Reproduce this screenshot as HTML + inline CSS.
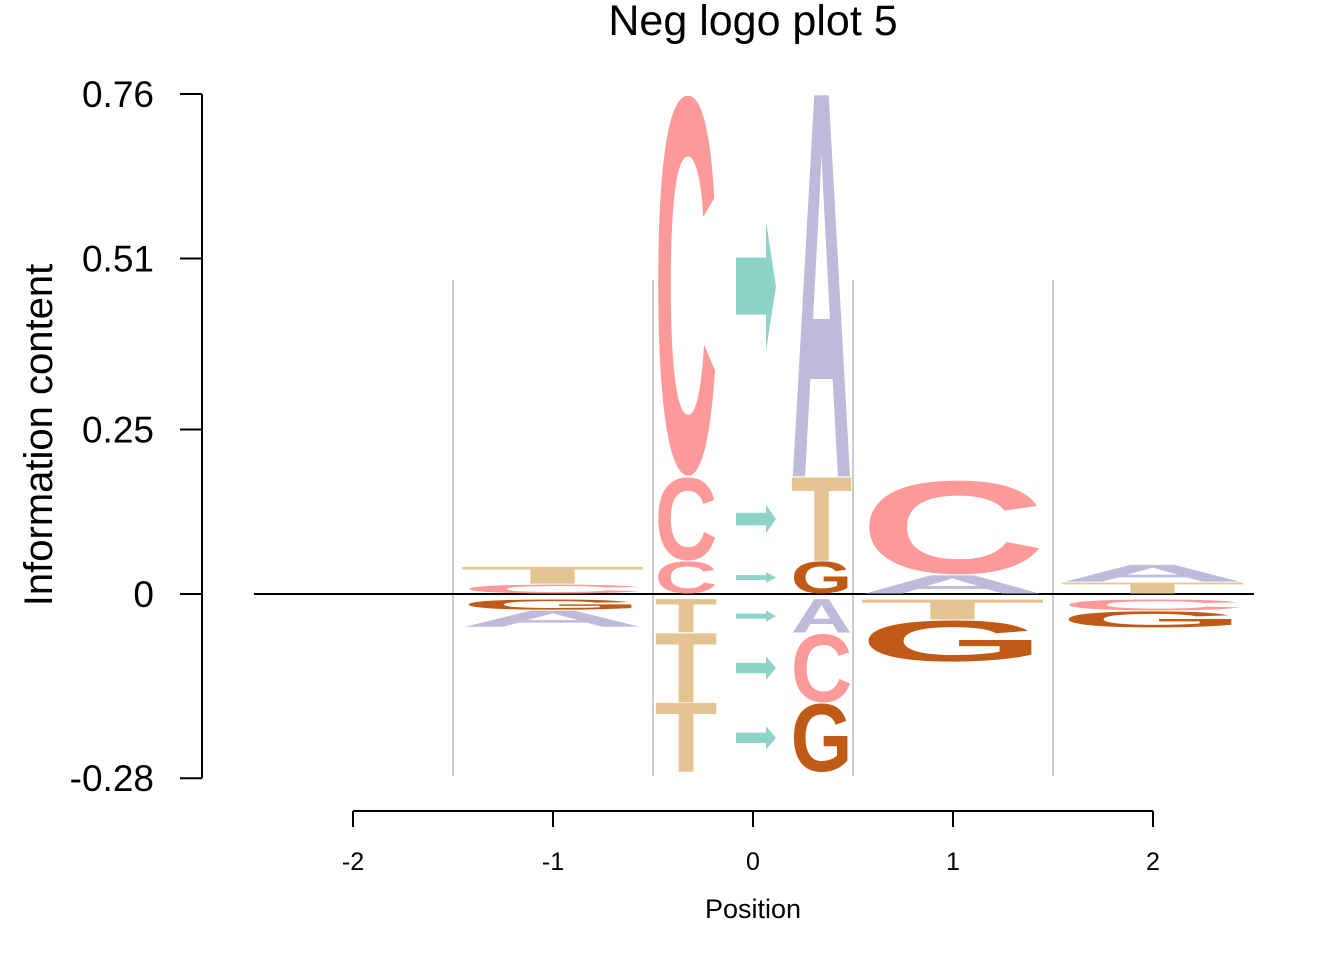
<!DOCTYPE html>
<html><head><meta charset="utf-8"><style>
body{margin:0;background:#fff}
svg{display:block;font-family:"Liberation Sans",sans-serif}
</style></head><body>
<svg id="chart" width="1344" height="960" viewBox="0 0 1344 960">
<text x="753" y="35" font-size="43" text-anchor="middle">Neg logo plot 5</text>
<text transform="translate(52,435) rotate(-90)" font-size="40" text-anchor="middle">Information content</text>
<text x="753" y="918" font-size="27" text-anchor="middle">Position</text>
<g id="grid"></g><g id="axes"></g><g id="marks"></g>
</svg>
<script>
const positions = [-1, 0, 1, 2];
// stacks: letter pairs "X" or "X>Y" for dinucleotide position; values in bits
const posLetters = [["C","T"], ["C>G","C>T","C>A"], ["A","C"], ["T","A"]];
const posValues  = [[0.015,0.027], [0.050,0.128,0.580], [0.029,0.144], [0.018,0.027]];
const negLetters = [["G","A"], ["T>A","T>C","T>G"], ["T","G"], ["C","G"]];
const negValues  = [[0.017,0.026], [0.052,0.106,0.106], [0.032,0.064], [0.018,0.026]];
const yTicks = [0.76, 0.51, 0.25, 0, -0.28];
const yTickLabels = ["0.76","0.51","0.25","0","-0.28"];
const xTicks = [-2,-1,0,1,2];
const xTickLabels = ["-2","-1","0","1","2"];

const NS="http://www.w3.org/2000/svg";
const y = v => 594 - v*657.9;
const x = p => 753 + p*200;
const colors = {A:"#BEBADA",C:"#FB9A99",G:"#C05A16",T:"#E5C494"};
const glyphTop = {A:-68.7,T:-68.7,C:-69.8,G:-69.8};
const glyphBot = {A:0,T:0,C:1.1,G:1.1};
function mk(tag, attrs, parent){const e=document.createElementNS(NS,tag);for(const k in attrs)e.setAttribute(k,attrs[k]);parent.appendChild(e);return e;}
const grid=document.getElementById('grid'), axes=document.getElementById('axes'), marks=document.getElementById('marks');

[-1.5,-0.5,0.5,1.5].forEach(p=>{
  const l=mk('line',{x1:x(p),x2:x(p),y1:280,y2:776,stroke:"#cccccc","stroke-width":2},grid);
  
  
});
let a=mk('line',{x1:202,x2:202,y1:y(yTicks[0]),y2:y(yTicks[yTicks.length-1]),stroke:"#000","stroke-width":2},axes);


yTicks.forEach((v,i)=>{
  const t=mk('line',{x1:180,x2:202,y1:y(v),y2:y(v),stroke:"#000","stroke-width":2},axes);
  
  
  const tx=mk('text',{x:154,y:y(v)+13,"font-size":37,"text-anchor":"end"},axes);
  tx.textContent=yTickLabels[i];
  
  
});
a=mk('line',{x1:x(xTicks[0]),x2:x(xTicks[xTicks.length-1]),y1:811,y2:811,stroke:"#000","stroke-width":2},axes);


xTicks.forEach((v,i)=>{
  const t=mk('line',{x1:x(v),x2:x(v),y1:811,y2:827,stroke:"#000","stroke-width":2},axes);
  
  
  const tx=mk('text',{x:x(v),y:870,"font-size":25,"text-anchor":"middle"},axes);
  tx.textContent=xTickLabels[i];
  
  
});
a=mk('line',{x1:254,x2:1254,y1:594,y2:594,stroke:"#000","stroke-width":2},axes);



function letter(ch,x0,w,top,bot,narrow){
  const h=bot-top; if(h<=0.5)return;
  const span=glyphBot[ch]-glyphTop[ch], s=h/span;
  const g=mk('g',{transform:`translate(${x0},${bot-glyphBot[ch]*s}) scale(1,${s})`},marks);
  const f=narrow?1.08:1.06;
  const t=mk('text',{x:-(f-1)/2*w,y:0,"font-size":100,"font-weight":"bold",fill:colors[ch],textLength:f*w,lengthAdjust:"spacingAndGlyphs"},g);
  t.textContent=ch;
  
  
}
function arrow(top,bot){
  const h=bot-top, cy=(top+bot)/2, hh=h*0.34/2, bh=h*0.15/2;
  const p=mk('path',{d:`M736 ${cy-bh} L766 ${cy-bh} L766 ${cy-hh} L776 ${cy} L766 ${cy+hh} L766 ${cy+bh} L736 ${cy+bh} Z`,fill:"#8DD3C7"},marks);
  
  
}
function draw(ls,vs,pi,sign){
  let cum=0;
  ls.forEach((L,j)=>{
    const v=vs[j];
    let y1=y(sign*cum), y2=y(sign*(cum+v));
    let top=Math.min(y1,y2)+0.5, bot=Math.max(y1,y2)-0.5;
    if(sign<0){top+=5;bot+=5;}
    cum+=v;
    const cx=x(positions[pi]);
    if(L.includes('>')){
      const [a,b]=L.split('>');
      letter(a,657,58,top,bot,true);
      arrow(top,bot);
      letter(b,793,57,top,bot,true);
    } else letter(L,cx-89,177,top,bot,false);
  });
}
positions.forEach((p,i)=>{draw(posLetters[i],posValues[i],i,1);draw(negLetters[i],negValues[i],i,-1);});
</script>
</body></html>
